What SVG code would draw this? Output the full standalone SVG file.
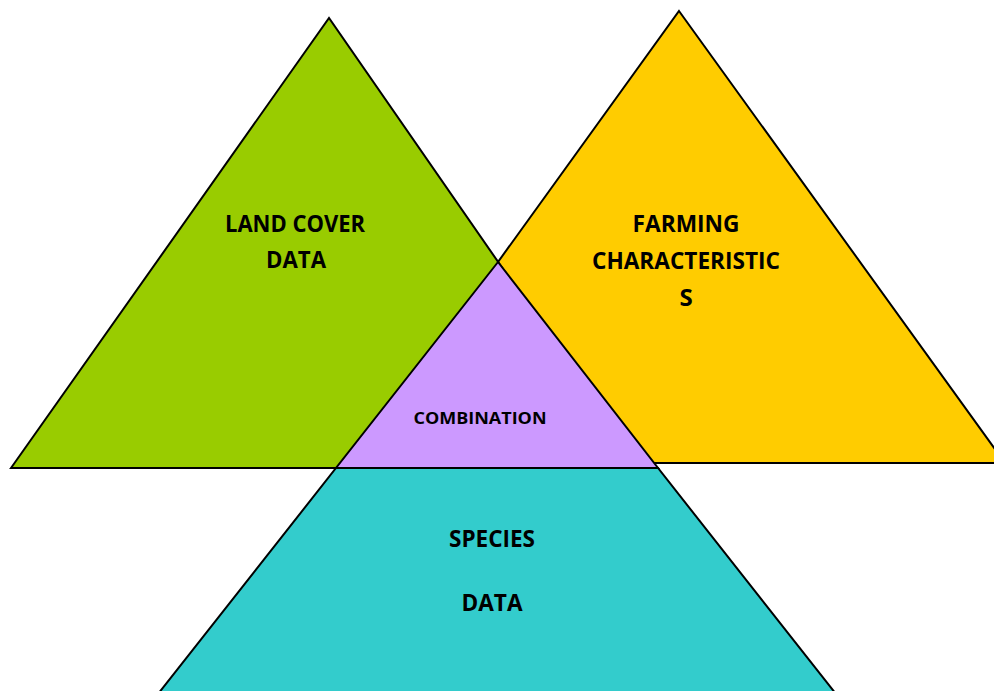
<svg xmlns="http://www.w3.org/2000/svg" width="994" height="691" viewBox="0 0 994 691">
<style>
.s{stroke:#000;stroke-width:2;stroke-linejoin:miter}
.t{font-family:"Open Sans","Liberation Sans",sans-serif;font-weight:bold;fill:#000;text-anchor:middle}
.b{font-size:24px}
.m{font-size:16px}
</style>
<rect width="994" height="691" fill="#fff"/>
<g id="farming">
<polygon class="s" fill="#FFCC00" points="679,11 1005,463 353,463"/>
<text class="t b" x="686" y="232" textLength="107" lengthAdjust="spacingAndGlyphs">FARMING</text>
<text class="t b" x="686" y="269" textLength="188" lengthAdjust="spacingAndGlyphs">CHARACTERISTIC</text>
<text class="t b" x="686" y="306">S</text>
</g>
<g id="land-cover">
<polygon class="s" fill="#99CC00" points="11,468 329,18 641,468"/>
<text class="t b" x="295" y="232" textLength="140" lengthAdjust="spacingAndGlyphs">LAND COVER</text>
<text class="t b" x="296" y="268" textLength="60" lengthAdjust="spacingAndGlyphs">DATA</text>
</g>
<g id="species">
<polygon class="s" fill="#33CCCC" points="336,468 658,468 836,694 158,694"/>
<text class="t b" x="492" y="547" textLength="86" lengthAdjust="spacingAndGlyphs">SPECIES</text>
<text class="t b" x="492" y="611" textLength="61" lengthAdjust="spacingAndGlyphs">DATA</text>
</g>
<g id="combination">
<polygon class="s" fill="#CC99FF" points="498,262 336,468 658,468"/>
<text class="t m" x="480" y="424" textLength="133" lengthAdjust="spacingAndGlyphs">COMBINATION</text>
</g>
<g id="connectors"></g>
</svg>
